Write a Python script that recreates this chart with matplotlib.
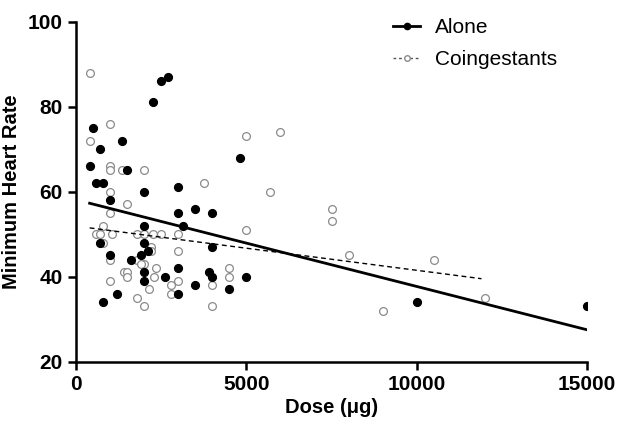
import numpy as np
import matplotlib
matplotlib.use("Agg")
import matplotlib.pyplot as plt

plt.rcParams['font.family'] = ['Liberation Sans', 'DejaVu Sans']

# Alone (filled markers)
alone_dose = [400, 500, 600, 700, 800, 1000, 1350, 1500, 2000, 2250, 2500, 2700,
              3000, 3500, 4800, 3000, 4000, 2000, 3150, 700, 2000, 4000, 2100, 1900,
              1000, 1600, 3000, 3900, 4000, 2000, 2000, 2600, 3500, 4500, 3000, 1200,
              800, 5000, 10000, 15000]
alone_hr = [66, 75, 62, 70, 62, 58, 72, 65, 60, 81, 86, 87,
            61, 56, 68, 55, 55, 52, 52, 48, 48, 47, 46, 45,
            45, 44, 42, 41, 40, 41, 39, 40, 38, 37, 36, 36,
            34, 40, 34, 33]

# Coingestants (open markers)
coing_dose = [400, 1000, 400, 1000, 1000, 1350, 2000, 1000, 3750, 1500, 1000, 800,
              600, 700, 1050, 1800, 2250, 2500, 3000, 800, 2200, 2200, 3000, 1000,
              1800, 1400, 1500, 1500, 2350, 2300, 3000, 1000, 2150, 2800, 2800, 1800,
              2000, 4000, 4000, 4500, 4500, 5000, 6000, 5700, 7500, 7500, 5000, 8000,
              9000, 10500, 12000, 2000, 2000, 1900]
coing_hr = [88, 76, 72, 66, 65, 65, 65, 60, 62, 57, 55, 52,
            50, 50, 50, 50, 50, 50, 50, 48, 47, 46, 46, 44,
            44, 41, 41, 40, 42, 40, 39, 39, 37, 38, 36, 35,
            33, 38, 33, 42, 40, 73, 74, 60, 56, 53, 51, 45,
            32, 44, 35, 50, 43, 43]

# regression lines (start dose, end dose, slope, intercept)
alone_fit_x = [400, 15000]
alone_fit = (-0.00204, 58.1)
coing_fit_x = [400, 11900]
coing_fit = (-0.00104, 51.9)

fig = plt.figure(figsize=(6.18, 4.26), dpi=100)
ax = fig.add_axes([0.123, 0.151, 0.827, 0.798])

ax.plot(coing_dose, coing_hr, 'o', ms=5.6, mfc='white', mec='#8a8a8a', mew=0.9,
        ls='none', zorder=3)
ax.plot(alone_dose, alone_hr, 'o', ms=5.6, mfc='black', mec='black', ls='none', zorder=4)

fx = np.array(alone_fit_x)
ax.plot(fx, alone_fit[0] * fx + alone_fit[1], color='black', lw=2.0, zorder=5)
fx = np.array(coing_fit_x)
ax.plot(fx, coing_fit[0] * fx + coing_fit[1], color='black', lw=1.0, ls=(0, (3.5, 2.5)), zorder=5)

# legend handles
h1, = ax.plot([], [], color='black', lw=2.0, marker='o', ms=4.5, mfc='black')
h2, = ax.plot([], [], color='#555555', lw=1.0, ls=(0, (2, 2)), marker='o', ms=4,
              mfc='white', mec='#8a8a8a')
ax.legend([h1, h2], ['Alone', 'Coingestants'], frameon=False, fontsize=15,
          loc='upper right', bbox_to_anchor=(0.978, 1.065), handlelength=1.3,
          handletextpad=0.7, labelspacing=0.6)

ax.set_xlim(0, 15000)
ax.set_ylim(20, 100)
ax.set_xticks([0, 5000, 10000, 15000])
ax.set_yticks([20, 40, 60, 80, 100])

for s in ['top', 'right']:
    ax.spines[s].set_visible(False)
for s in ['left', 'bottom']:
    ax.spines[s].set_linewidth(1.8)
ax.tick_params(axis='both', width=1.8, length=6, labelsize=15)
for lab in ax.get_xticklabels() + ax.get_yticklabels():
    lab.set_fontweight('bold')

ax.set_xlabel('Dose (\u03bcg)', fontsize=14.5, fontweight='bold', labelpad=3)
ax.set_ylabel('Minimum Heart Rate', fontsize=14.5, fontweight='bold', labelpad=5)

fig.savefig('out.png', dpi=100)
